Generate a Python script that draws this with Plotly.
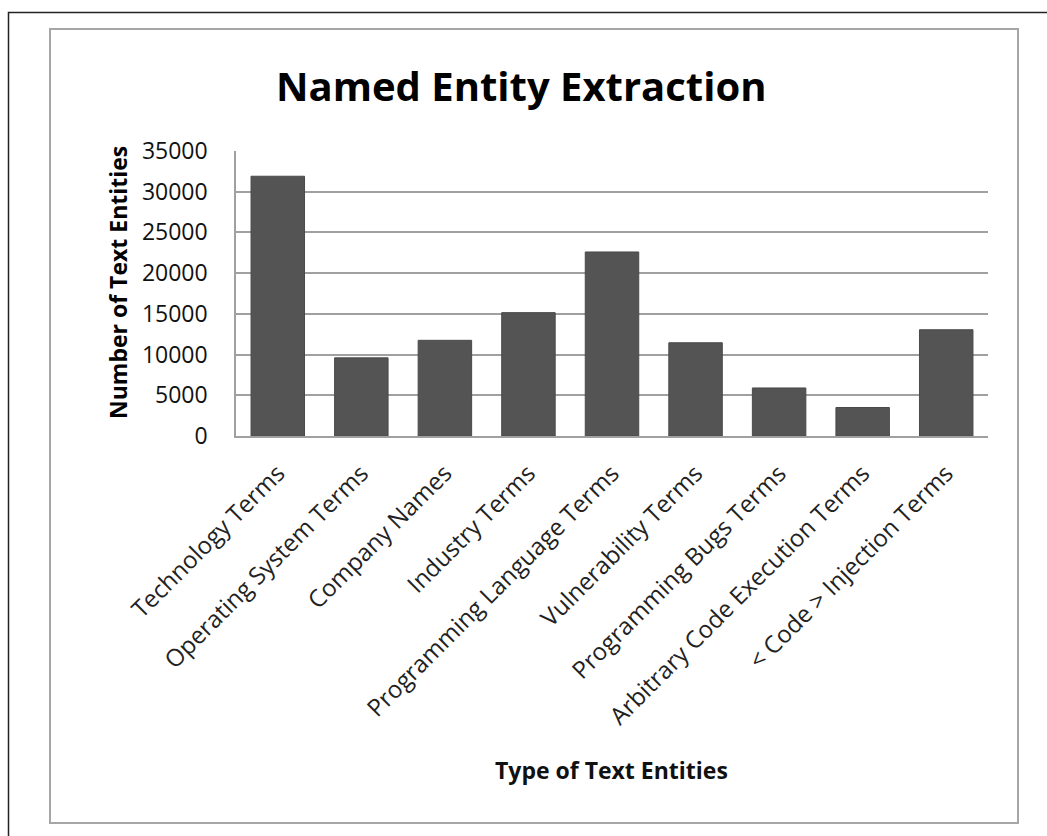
import plotly.graph_objects as go

categories = ["Technology Terms", "Operating System Terms", "Company Names", "Industry Terms",
              "Programming Language Terms", "Vulnerability Terms", "Programming Bugs Terms",
              "Arbitrary Code Execution Terms", "< Code > Injection Terms"]
counts = [31900, 9600, 11750, 15150, 22600, 11450, 5900, 3500, 13050]
y_ticks = [0, 5000, 10000, 15000, 20000, 25000, 30000, 35000]

W, H = 1047, 836
L, R, T, B = 236, 988, 151, 436  # plot area in pixels

def px(x):
    return (x - L) / (R - L)

def py(y):
    return (B - y) / (B - T)

FONT = "Open Sans"

fig = go.Figure(go.Bar(
    x=categories, y=counts,
    marker=dict(color="#545454", line=dict(color="#4a4a4a", width=1)),
    width=0.64,
))

fig.update_layout(
    width=W, height=H,
    margin=dict(l=L, r=W - R, t=T, b=H - B, pad=0),
    paper_bgcolor="white", plot_bgcolor="white",
    showlegend=False,
    font=dict(family=FONT, color="#111111"),
    shapes=[
        dict(type="rect", xref="paper", yref="paper",
             x0=px(8.5), x1=px(1100), y0=py(12.5), y1=py(900),
             line=dict(color="#222222", width=1.5)),
        dict(type="rect", xref="paper", yref="paper",
             x0=px(50), x1=px(1018), y0=py(29), y1=py(823),
             line=dict(color="#a6a6a6", width=2)),
    ],
    annotations=[
        dict(text="<b>Named Entity Extraction</b>", xref="paper", yref="paper",
             x=px(521), y=py(86), showarrow=False, xanchor="center", yanchor="middle",
             font=dict(family=FONT, size=40, color="#000000")),
        dict(text="<b>Number of Text Entities</b>", xref="paper", yref="paper",
             x=px(118), y=py(283), showarrow=False, xanchor="center", yanchor="middle",
             textangle=-90, font=dict(family=FONT, size=23, color="#000000")),
        dict(text="<b>Type of Text Entities</b>", xref="paper", yref="paper",
             x=px(611), y=py(770), showarrow=False, xanchor="center", yanchor="middle",
             font=dict(family=FONT, size=23, color="#111111")),
    ],
)

fig.update_yaxes(
    range=[0, 35000], tickvals=y_ticks, ticktext=[str(v) for v in y_ticks],
    showgrid=True, gridcolor="#a0a0a0", gridwidth=1.5,
    showline=True, linecolor="#a0a0a0", linewidth=1.5,
    zeroline=False, ticks="", ticklabelstandoff=22,
    tickfont=dict(family=FONT, size=23, color="#111111"),
)
fig.update_xaxes(
    tickangle=-45, showgrid=False, showline=True, linecolor="#a0a0a0", linewidth=1.5,
    ticks="", ticklabelstandoff=12,
    tickfont=dict(family=FONT, size=24, color="#222222"),
)

fig.write_html("out.html")
